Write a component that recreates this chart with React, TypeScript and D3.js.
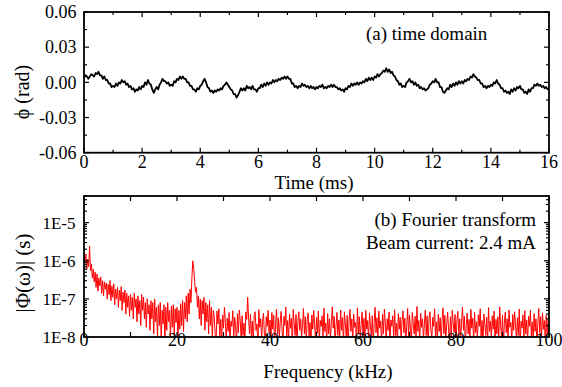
import React from "react";
import * as d3 from "d3";

// ---------- data ----------
// phase samples every 0.05 ms from 0 to 16 ms (rad)
const timeStepMs = 0.05;
const phaseRad = [
  0.004, 0.006, 0.005, 0.003, 0.005, 0.007, 0.006, 0.005, 0.008, 0.007, 0.009, 0.006, 0.006, 0.003, 0.005, 0.002, 0.002, -0.001, -0.001, -0.004,
  -0.003, -0.004, -0.001, -0.003, 0.0, -0.001, 0.002, 0.0, 0.001, -0.002, -0.001, -0.004, -0.003, -0.006, -0.005, -0.008, -0.006, -0.007, -0.004, -0.006,
  -0.003, -0.004, 0.0, -0.002, 0.002, -0.001, -0.002, -0.006, -0.009, -0.006, -0.004, -0.006, -0.002, 0.0, 0.003, 0.001, 0.001, -0.001, 0.0, -0.003,
  -0.002, -0.003, 0.001, 0.0, 0.003, 0.002, 0.005, 0.003, 0.005, 0.003, 0.003, 0.0, 0.0, -0.003, -0.003, -0.006, -0.006, -0.008, -0.005, -0.006,
  -0.003, -0.002, 0.001, 0.003, 0.0, -0.004, -0.005, -0.008, -0.007, -0.009, -0.007, -0.008, -0.006, -0.007, -0.005, -0.006, -0.003, -0.002, 0.0, -0.002,
  -0.004, -0.006, -0.007, -0.010, -0.010, -0.013, -0.011, -0.008, -0.005, -0.007, -0.005, -0.007, -0.003, -0.005, -0.004, -0.006, -0.003, -0.006, -0.006, -0.008,
  -0.005, -0.005, -0.002, -0.004, -0.001, -0.003, 0.0, -0.002, 0.0, -0.001, 0.002, 0.0, 0.002, 0.001, 0.003, 0.002, 0.004, 0.003, 0.005, 0.003,
  0.005, 0.003, 0.003, -0.001, -0.001, -0.004, -0.003, -0.005, -0.003, -0.004, -0.001, -0.003, -0.002, -0.004, -0.003, -0.005, -0.003, -0.005, -0.004, -0.006,
  -0.004, -0.005, -0.003, -0.004, -0.002, -0.005, -0.004, -0.005, -0.003, -0.004, -0.002, -0.004, -0.002, -0.004, -0.004, -0.006, -0.005, -0.007, -0.006, -0.008,
  -0.005, -0.006, -0.003, -0.004, -0.001, -0.003, -0.001, -0.002, 0.0, -0.002, 0.0, -0.001, 0.001, 0.0, 0.003, 0.001, 0.004, 0.002, 0.004, 0.002,
  0.005, 0.004, 0.007, 0.005, 0.007, 0.008, 0.010, 0.009, 0.012, 0.009, 0.011, 0.008, 0.009, 0.006, 0.005, 0.002, 0.001, -0.002, -0.001, -0.004,
  -0.003, -0.004, 0.0, 0.001, 0.003, 0.0, 0.001, -0.002, 0.0, -0.003, -0.002, -0.005, -0.004, -0.006, -0.005, -0.007, -0.006, -0.005, -0.002, -0.001,
  0.001, 0.0, 0.003, 0.0, 0.0, -0.004, -0.004, -0.008, -0.009, -0.007, -0.005, -0.006, -0.002, -0.004, -0.001, -0.003, 0.0, -0.002, 0.001, -0.001,
  0.001, -0.001, 0.002, 0.001, 0.003, 0.002, 0.005, 0.004, 0.007, 0.005, 0.004, 0.002, 0.002, -0.001, -0.001, -0.004, -0.003, -0.005, -0.003, -0.004,
  -0.002, -0.003, 0.0, -0.001, 0.002, -0.001, -0.002, -0.005, -0.005, -0.008, -0.007, -0.009, -0.008, -0.010, -0.006, -0.008, -0.005, -0.007, -0.004, -0.005,
  -0.003, -0.006, -0.006, -0.009, -0.008, -0.010, -0.006, -0.008, -0.005, -0.005, -0.002, -0.003, -0.001, -0.003, -0.002, -0.004, -0.003, -0.005, -0.004, -0.006,
  -0.005,
];

// spectrum magnitude in units of 1E-8 s, sampled every 0.2 kHz from 0 kHz
const freqStepKHz = 0.2;
const spectrumUnit = 1e-8;
const spectrumE8 = [
  180, 90, 150, 60, 110, 70, 240, 55, 80, 35,
  60, 28, 50, 20, 45, 16, 35, 22, 38, 14,
  30, 12, 28, 18, 26, 10, 24, 13, 30, 9,
  22, 11, 25, 7, 18, 10, 20, 6, 17, 9,
  21, 5, 15, 8, 17, 4, 14, 6, 12, 3.5,
  13, 5, 11, 3, 14, 6, 10, 2.5, 12, 4,
  9, 2, 13, 5, 11, 3, 8, 1.8, 10, 4,
  7, 1.5, 9, 3, 8, 1.2, 10, 2.5, 6, 1,
  7, 2, 8, 0.8, 5, 2.2, 7, 0.7, 6, 1.5,
  8, 2.5, 5, 0.9, 6.5, 1.8, 7, 1.1, 5.5, 2.4,
  6, 0.8, 5, 1.6, 7.5, 2.0, 9, 1.4, 8, 3,
  12, 2.5, 14, 4, 18, 8, 35, 100, 60, 28,
  15, 20, 6, 12, 3, 10, 2, 9, 4, 11,
  1.5, 8, 2.5, 7, 1.2, 9, 2, 6, 0.9, 5,
  3.5, 1.2, 0.7, 4.8, 2.2, 5.5, 1.0, 2.9, 0.6, 3.8, 1.7, 6.0, 2.4, 0.8, 3.1, 1.4, 4.4, 0.7, 2.6, 1.9,
  4.9, 0.9, 3.3, 2.0, 0.6, 4.1, 1.3, 5.1, 2.7, 0.8, 3.6, 1.1, 2.3, 0.7, 4.5, 2.9, 11, 3.0, 1.2, 4.0,
  1.0, 2.6, 0.7, 3.8, 4.6, 1.5, 2.2, 0.6, 5.2, 1.8, 3.0, 0.9, 2.5, 4.2, 1.1, 0.7, 3.4, 1.9, 5.0, 1.3,
  2.8, 0.8, 4.4, 1.6, 3.7, 0.6, 2.1, 5.4, 1.2, 3.2, 0.9, 2.6, 4.7, 1.4, 0.7, 3.5, 2.0, 6.1, 1.0, 2.7,
  0.8, 4.0, 1.7, 3.1, 0.6, 5.3, 2.3, 1.1, 3.9, 0.7, 2.5, 4.6, 1.5, 3.0, 0.9, 2.2, 5.6, 1.2, 3.4, 0.8,
  2.9, 4.3, 1.0, 2.4, 0.6, 3.8, 1.6, 5.0, 2.1, 0.8, 3.3, 1.3, 4.8, 0.7, 2.7, 1.9, 3.6, 0.9, 5.7, 1.4,
  2.3, 0.7, 4.1, 1.2, 3.0, 0.8, 2.5, 6.2, 1.7, 3.5, 0.6, 2.0, 4.4, 1.1, 2.8, 0.9, 5.1, 1.5, 3.2, 0.7,
  4.6, 2.2, 1.0, 3.7, 0.6, 2.6, 5.3, 1.4, 3.0, 0.8, 4.0, 1.8, 2.4, 0.7, 5.8, 1.2, 3.4, 0.9, 2.1, 4.5,
  1.1, 3.1, 0.7, 5.0, 1.6, 2.7, 0.8, 4.3, 2.0, 1.0, 3.6, 0.6, 2.4, 6.0, 1.3, 3.2, 0.9, 4.8, 1.7, 2.6,
  0.7, 3.9, 1.2, 5.4, 2.2, 0.8, 3.0, 1.5, 4.5, 0.6, 2.8, 1.9, 3.6, 0.9, 5.2, 1.1, 2.3, 0.7, 4.1, 1.6,
  3.3, 0.8, 2.6, 4.9, 1.3, 3.1, 0.6, 2.0, 5.6, 1.0, 3.8, 1.7, 0.7, 4.4, 2.4, 1.2, 3.5, 0.9, 6.3, 1.4,
  2.7, 0.7, 4.2, 1.8, 3.0, 0.8, 2.2, 5.1, 1.1, 3.6, 0.6, 2.9, 4.6, 1.5, 0.9, 3.3, 1.9, 5.5, 1.0, 2.5,
  0.8, 4.0, 1.4, 3.2, 0.7, 2.6, 5.8, 1.2, 3.7, 0.9, 2.1, 4.5, 1.6, 0.6, 3.4, 1.0, 5.0, 2.3, 1.3, 3.9,
  0.7, 2.8, 4.7, 1.1, 3.0, 0.8, 2.4, 6.1, 1.5, 3.5, 0.6, 2.0, 4.2, 1.2, 2.9, 0.9, 5.3, 1.7, 3.1, 0.7,
  4.4, 1.3, 2.5, 0.8, 3.8, 1.9, 5.5, 1.0, 2.7, 0.6, 4.0, 2.2, 1.1, 3.3, 0.7, 5.9, 1.4, 2.6, 0.9, 3.6,
  1.6, 4.8, 0.7, 2.9, 1.2, 3.4, 0.8, 6.2, 2.0, 1.0, 3.7, 0.6, 2.3, 4.5, 1.3, 3.0, 0.9, 5.1, 1.8, 2.4,
  0.7, 3.9, 1.5, 4.6, 2.1, 0.8, 3.2, 1.1, 5.4, 0.6, 2.6, 1.7, 3.8, 0.9, 4.9, 1.2, 2.8, 0.7, 3.5, 1.9,
  5.0, 1.0, 2.5, 0.8, 4.1, 1.4, 3.0, 0.6, 2.2, 5.6, 1.3, 3.4, 0.9, 4.3, 1.6, 2.7, 0.7, 3.7, 1.1, 2.9,
];

const timeTicks = [0, 2, 4, 6, 8, 10, 12, 14, 16];
const timeMinorTicks = [1, 3, 5, 7, 9, 11, 13, 15];
const phaseTicks = [0.06, 0.03, 0.0, -0.03, -0.06];
const phaseMinorTicks = [0.045, 0.015, -0.015, -0.045];
const freqTicks = [0, 20, 40, 60, 80, 100];
const freqMinorTicks = [10, 30, 50, 70, 90];
const magTicks = [1e-8, 1e-7, 1e-6, 1e-5];
const magTickLabels = ["1E-8", "1E-7", "1E-6", "1E-5"];

const FONT = "'Liberation Serif', 'Times New Roman', serif";

export default function App() {
  const L = 84, R = 549;
  const t1 = 12, b1 = 152.7;
  const t2 = 196, b2 = 337;

  const x1 = d3.scaleLinear().domain([0, 16]).range([L, R]);
  const y1 = d3.scaleLinear().domain([-0.06, 0.06]).range([b1, t1]);
  const x2 = d3.scaleLinear().domain([0, 100]).range([L, R]);
  const y2 = d3.scaleLog().domain([1e-8, 5e-5]).range([b2, t2]);

  const line1 = d3
    .line<number>()
    .x((_, i) => x1(i * timeStepMs))
    .y((d) => y1(d));
  const line2 = d3
    .line<number>()
    .x((_, i) => x2(i * freqStepKHz))
    .y((d) => y2(Math.max(d * spectrumUnit, 1e-9)));

  const logMinor: number[] = [];
  for (let e = -8; e <= -5; e++) {
    for (let m = 2; m <= 9; m++) {
      const v = m * Math.pow(10, e);
      if (v <= 5e-5) logMinor.push(v);
    }
  }

  const major = 5, minor = 3;
  const tk = { stroke: "#000", strokeWidth: 1.2 };

  return (
    <svg width={562} height={387} style={{ display: "block", position: "absolute", left: 0, top: 0 }} fontFamily={FONT}>
      <defs>
        <clipPath id="c1"><rect x={L} y={t1} width={R - L} height={b1 - t1} /></clipPath>
        <clipPath id="c2"><rect x={L} y={t2} width={R - L} height={b2 - t2} /></clipPath>
      </defs>
      <rect width={562} height={387} fill="#fff" />

      {/* ---------- panel (a) ---------- */}
      <path d={line1(phaseRad) || ""} fill="none" stroke="#000" strokeWidth={1.8} strokeLinejoin="round" clipPath="url(#c1)" />
      {timeTicks.map((v) => (
        <g key={"tx" + v}>
          <line x1={x1(v)} x2={x1(v)} y1={b1} y2={b1 - major} {...tk} />
          <line x1={x1(v)} x2={x1(v)} y1={t1} y2={t1 + major} {...tk} />
          <text x={x1(v)} y={168} fontSize={18} textAnchor="middle">{v}</text>
        </g>
      ))}
      {timeMinorTicks.map((v) => (
        <g key={"txm" + v}>
          <line x1={x1(v)} x2={x1(v)} y1={b1} y2={b1 - minor} {...tk} />
          <line x1={x1(v)} x2={x1(v)} y1={t1} y2={t1 + minor} {...tk} />
        </g>
      ))}
      {phaseTicks.map((v) => (
        <g key={"py" + v}>
          <line x1={L} x2={L + major} y1={y1(v)} y2={y1(v)} {...tk} />
          <line x1={R} x2={R - major} y1={y1(v)} y2={y1(v)} {...tk} />
          <text x={76.5} y={y1(v)} dy="0.35em" fontSize={18} textAnchor="end">{d3.format(".2f")(v).replace("−", "-")}</text>
        </g>
      ))}
      {phaseMinorTicks.map((v) => (
        <g key={"pym" + v}>
          <line x1={L} x2={L + minor} y1={y1(v)} y2={y1(v)} {...tk} />
          <line x1={R} x2={R - minor} y1={y1(v)} y2={y1(v)} {...tk} />
        </g>
      ))}
      <rect x={L} y={t1} width={R - L} height={b1 - t1} fill="none" stroke="#000" strokeWidth={1.8} />
      <text x={366} y={39.5} fontSize={19}>(a) time domain</text>
      <text x={314} y={188.5} fontSize={19} textAnchor="middle">Time (ms)</text>
      <text transform={`translate(29,92) rotate(-90)`} fontSize={20} textAnchor="middle">ϕ (rad)</text>

      {/* ---------- panel (b) ---------- */}
      <path d={line2(spectrumE8) || ""} fill="none" stroke="#ff0000" strokeWidth={1} clipPath="url(#c2)" />
      {freqTicks.map((v) => (
        <g key={"fx" + v}>
          <line x1={x2(v)} x2={x2(v)} y1={b2} y2={b2 - major} {...tk} />
          <line x1={x2(v)} x2={x2(v)} y1={t2} y2={t2 + major} {...tk} />
          <text x={x2(v)} y={345.5} fontSize={18} textAnchor="middle">{v}</text>
        </g>
      ))}
      {freqMinorTicks.map((v) => (
        <g key={"fxm" + v}>
          <line x1={x2(v)} x2={x2(v)} y1={b2} y2={b2 - major} {...tk} />
          <line x1={x2(v)} x2={x2(v)} y1={t2} y2={t2 + major} {...tk} />
        </g>
      ))}
      {magTicks.map((v, i) => (
        <g key={"my" + i}>
          <line x1={L} x2={L + major} y1={y2(v)} y2={y2(v)} {...tk} />
          <line x1={R} x2={R - major} y1={y2(v)} y2={y2(v)} {...tk} />
          <text x={75.5} y={y2(v)} dy="0.35em" fontSize={17} textAnchor="end">{magTickLabels[i]}</text>
        </g>
      ))}
      {logMinor.map((v, i) => (
        <g key={"mym" + i}>
          <line x1={L} x2={L + minor} y1={y2(v)} y2={y2(v)} {...tk} />
          <line x1={R} x2={R - minor} y1={y2(v)} y2={y2(v)} {...tk} />
        </g>
      ))}
      <rect x={L} y={t2} width={R - L} height={b2 - t2} fill="none" stroke="#000" strokeWidth={1.8} />
      <text x={536} y={225.5} fontSize={19} textAnchor="end">(b) Fourier transform</text>
      <text x={536} y={249} fontSize={19} textAnchor="end">Beam current: 2.4 mA</text>
      <text x={328} y={378} fontSize={19} textAnchor="middle">Frequency (kHz)</text>
      <text transform={`translate(30,273) rotate(-90)`} fontSize={21} textAnchor="middle">|Φ(ω)| (s)</text>
    </svg>
  );
}
